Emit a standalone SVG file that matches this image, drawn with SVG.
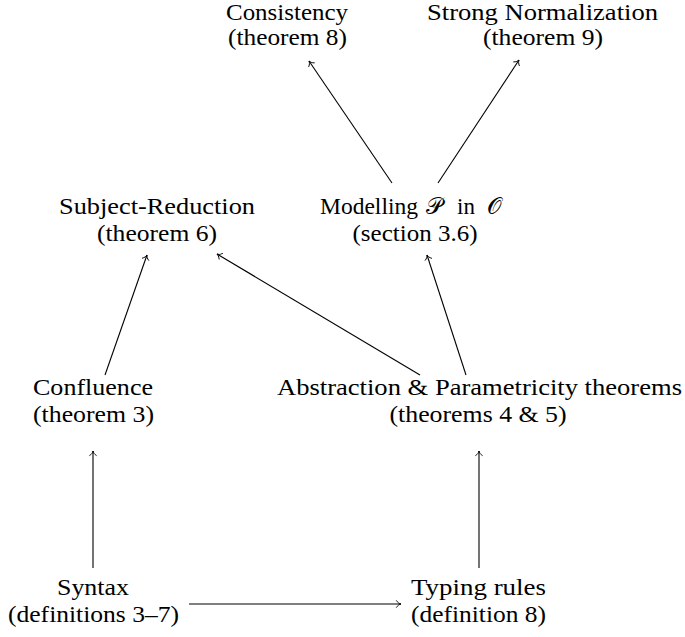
<svg xmlns="http://www.w3.org/2000/svg" width="685" height="637" viewBox="0 0 685 637">
<defs>
<style>
text{font-family:'Liberation Serif','Times New Roman',Times,serif;font-size:23px;fill:#000;text-anchor:middle}
.s{text-anchor:start}
.c line{stroke:#000;stroke-width:1.1;fill:none;marker-end:url(#ah)}
</style>
<marker id="ah" markerUnits="userSpaceOnUse" markerWidth="10" markerHeight="10" viewBox="-6 -5 7 10" refX="0" refY="0" orient="auto">
<path d="M-4.5,-3.3 C-3.4,-1.4 -1.4,-0.3 0,0 C-1.4,0.3 -3.4,1.4 -4.5,3.3" fill="none" stroke="#000" stroke-width="0.9" stroke-linecap="round"/>
</marker>
</defs>
<rect width="685" height="637" fill="#fff"/>
<g font-family="Liberation Serif, serif">
<g id="consistency">
<text x="287" y="20" textLength="122" lengthAdjust="spacingAndGlyphs">Consistency</text>
<text x="287.5" y="45" textLength="119" lengthAdjust="spacingAndGlyphs">(theorem 8)</text>
</g>
<g id="strong-normalization">
<text x="542.5" y="20" textLength="231" lengthAdjust="spacingAndGlyphs">Strong Normalization</text>
<text x="543" y="45" textLength="120" lengthAdjust="spacingAndGlyphs">(theorem 9)</text>
</g>
<g id="subject-reduction">
<text x="157" y="214" textLength="196" lengthAdjust="spacingAndGlyphs">Subject-Reduction</text>
<text x="157" y="241" textLength="120" lengthAdjust="spacingAndGlyphs">(theorem 6)</text>
</g>
<g id="modelling">
<text class="s" y="214"><tspan x="320" textLength="98" lengthAdjust="spacingAndGlyphs">Modelling</tspan><tspan x="426">𝒫</tspan><tspan x="457">in</tspan><tspan x="487">𝒪</tspan></text>
<text x="415" y="241" textLength="125" lengthAdjust="spacingAndGlyphs">(section 3.6)</text>
</g>
<g id="confluence">
<text x="93" y="395" textLength="120" lengthAdjust="spacingAndGlyphs">Confluence</text>
<text x="93.5" y="422" textLength="121" lengthAdjust="spacingAndGlyphs">(theorem 3)</text>
</g>
<g id="abstraction">
<text x="479.5" y="395" textLength="405" lengthAdjust="spacingAndGlyphs">Abstraction &amp; Parametricity theorems</text>
<text x="478" y="422" textLength="177" lengthAdjust="spacingAndGlyphs">(theorems 4 &amp; 5)</text>
</g>
<g id="syntax">
<text x="93" y="595" textLength="72" lengthAdjust="spacingAndGlyphs">Syntax</text>
<text x="93.5" y="622" textLength="171" lengthAdjust="spacingAndGlyphs">(definitions 3–7)</text>
</g>
<g id="typing-rules">
<text x="478.5" y="595" textLength="135" lengthAdjust="spacingAndGlyphs">Typing rules</text>
<text x="478.5" y="622" textLength="135" lengthAdjust="spacingAndGlyphs">(definition 8)</text>
</g>
</g>
<g id="connectors" class="c">
<line x1="392" y1="183" x2="309" y2="61"/>
<line x1="438" y1="183" x2="519" y2="60"/>
<line x1="105" y1="375" x2="147" y2="255"/>
<line x1="420" y1="375" x2="217" y2="254"/>
<line x1="466" y1="375" x2="427" y2="255"/>
<line x1="93" y1="568" x2="93" y2="451"/>
<line x1="479" y1="568" x2="479" y2="451"/>
<line x1="189" y1="604" x2="401" y2="604"/>
</g>
</svg>
